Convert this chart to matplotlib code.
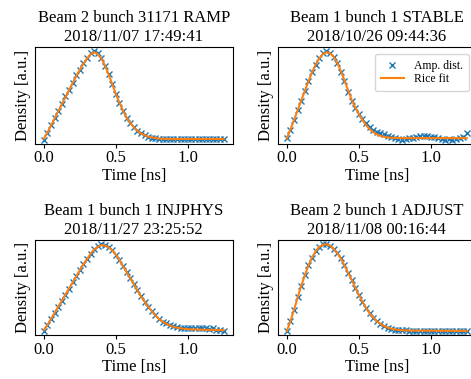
import numpy as np
import matplotlib
matplotlib.use('Agg')
from matplotlib import pyplot as plt

plt.rcParams['font.family'] = 'serif'
plt.rcParams['font.serif'] = ['Liberation Serif', 'DejaVu Serif']
plt.rcParams['font.size'] = 12

# time grid [ns]
time = np.linspace(0, 1.25, 51)

titles = ['Beam 2 bunch 31171 RAMP\n2018/11/07 17:49:41',
          'Beam 1 bunch 1 STABLE\n2018/10/26 09:44:36',
          'Beam 1 bunch 1 INJPHYS\n2018/11/27 23:25:52',
          'Beam 2 bunch 1 ADJUST\n2018/11/08 00:16:44']

# fitted Rice curves (normalised)
fit_ramp = [0.02, 0.09, 0.17, 0.25, 0.33, 0.41, 0.49, 0.57, 0.65, 0.73,
            0.80, 0.87, 0.93, 0.98, 1.00, 0.98, 0.93, 0.85, 0.75, 0.64,
            0.53, 0.43, 0.34, 0.26, 0.20, 0.15, 0.11, 0.08, 0.06, 0.045,
            0.035, 0.028, 0.023, 0.020, 0.018, 0.017, 0.017, 0.017, 0.017, 0.017,
            0.017, 0.017, 0.017, 0.017, 0.017, 0.017, 0.017, 0.017, 0.017, 0.017,
            0.017]
fit_stable = [0.02, 0.12, 0.23, 0.34, 0.45, 0.56, 0.67, 0.77, 0.86, 0.93,
              0.98, 1.00, 0.99, 0.95, 0.88, 0.79, 0.68, 0.57, 0.46, 0.37,
              0.30, 0.23, 0.17, 0.125, 0.09, 0.065, 0.048, 0.037, 0.030, 0.026,
              0.024, 0.023, 0.022, 0.022, 0.022, 0.022, 0.022, 0.022, 0.022, 0.022,
              0.022, 0.022, 0.022, 0.022, 0.022, 0.022, 0.022, 0.022, 0.022, 0.022,
              0.022]
fit_injphys = [0.02, 0.08, 0.15, 0.22, 0.29, 0.36, 0.43, 0.50, 0.57, 0.64,
               0.71, 0.78, 0.84, 0.90, 0.95, 0.98, 1.00, 0.995, 0.975, 0.94,
               0.89, 0.83, 0.76, 0.69, 0.62, 0.55, 0.48, 0.41, 0.35, 0.29,
               0.24, 0.19, 0.15, 0.12, 0.095, 0.075, 0.06, 0.05, 0.042, 0.036,
               0.032, 0.030, 0.028, 0.027, 0.026, 0.025, 0.024, 0.023, 0.023, 0.022,
               0.022]
fit_adjust = [0.02, 0.13, 0.26, 0.40, 0.53, 0.65, 0.76, 0.85, 0.92, 0.97,
              0.995, 1.00, 0.985, 0.95, 0.90, 0.84, 0.76, 0.68, 0.60, 0.51,
              0.43, 0.35, 0.28, 0.22, 0.17, 0.13, 0.10, 0.075, 0.058, 0.045,
              0.037, 0.031, 0.027, 0.025, 0.024, 0.024, 0.023, 0.023, 0.023, 0.022,
              0.022, 0.022, 0.022, 0.022, 0.021, 0.021, 0.021, 0.021, 0.020, 0.020,
              0.020]

# measured amplitude distributions
amp_ramp = [0.01, 0.09, 0.17, 0.26, 0.33, 0.41, 0.50, 0.57, 0.65, 0.74,
            0.80, 0.88, 0.94, 0.99, 1.01, 0.99, 0.93, 0.85, 0.75, 0.64,
            0.53, 0.43, 0.34, 0.26, 0.20, 0.15, 0.11, 0.08, 0.06, 0.04,
            0.03, 0.025, 0.02, 0.018, 0.015, 0.015, 0.014, 0.015, 0.015, 0.014,
            0.014, 0.015, 0.014, 0.014, 0.015, 0.014, 0.014, 0.015, 0.014, 0.014,
            0.015]
amp_stable = [0.02, 0.12, 0.23, 0.34, 0.45, 0.56, 0.67, 0.77, 0.86, 0.94,
              0.99, 1.01, 0.99, 0.95, 0.88, 0.78, 0.67, 0.55, 0.45, 0.36,
              0.30, 0.24, 0.19, 0.15, 0.12, 0.095, 0.075, 0.065, 0.05, 0.035,
              0.02, 0.01, 0.005, 0.01, 0.02, 0.025, 0.04, 0.045, 0.05, 0.045,
              0.04, 0.03, 0.02, 0.01, 0.005, 0.01, 0.005, 0.01, 0.02, 0.03,
              0.08]
amp_injphys = [0.01, 0.08, 0.15, 0.22, 0.29, 0.36, 0.43, 0.50, 0.57, 0.64,
               0.71, 0.78, 0.84, 0.90, 0.95, 0.99, 1.01, 1.00, 0.975, 0.94,
               0.89, 0.83, 0.76, 0.69, 0.62, 0.55, 0.48, 0.41, 0.35, 0.29,
               0.24, 0.19, 0.15, 0.12, 0.10, 0.08, 0.065, 0.055, 0.05, 0.045,
               0.045, 0.045, 0.04, 0.045, 0.04, 0.04, 0.035, 0.04, 0.02, 0.025,
               0.015]
amp_adjust = [0.02, 0.13, 0.26, 0.40, 0.53, 0.65, 0.76, 0.85, 0.92, 0.97,
              1.00, 1.00, 0.98, 0.95, 0.90, 0.84, 0.76, 0.68, 0.60, 0.51,
              0.43, 0.35, 0.28, 0.22, 0.17, 0.13, 0.10, 0.075, 0.055, 0.045,
              0.035, 0.03, 0.025, 0.025, 0.022, 0.022, 0.02, 0.022, 0.02, 0.02,
              0.02, 0.02, 0.02, 0.02, 0.02, 0.02, 0.018, 0.02, 0.018, 0.018,
              0.018]

amps = [amp_ramp, amp_stable, amp_injphys, amp_adjust]
fits = [fit_ramp, fit_stable, fit_injphys, fit_adjust]

fig = plt.figure(figsize=(4.71, 3.79), dpi=100)
positions = [[0.074, 0.620, 0.420, 0.256],
             [0.590, 0.620, 0.420, 0.256],
             [0.074, 0.115, 0.420, 0.252],
             [0.590, 0.115, 0.420, 0.252]]

for i in range(4):
    ax = fig.add_axes(positions[i])
    ax.plot(time, amps[i], 'x', color='tab:blue', ms=5, mew=1.0, label='Amp. dist.')
    ax.plot(time, fits[i], '-', color='tab:orange', lw=1.5, label='Rice fit')
    ax.set_title(titles[i], fontsize=12, linespacing=1.25, pad=4)
    ax.set_xlabel('Time [ns]', labelpad=1)
    ax.set_ylabel('Density [a.u.]', labelpad=3)
    ax.set_yticks([])
    ax.set_xticks([0.0, 0.5, 1.0])
    ax.tick_params(axis='x', length=3, pad=1.5)
    if i == 1:
        ax.legend(loc='upper right', fontsize=8.5, labelspacing=0.1,
                  borderpad=0.5, handletextpad=0.8, borderaxespad=0.6)

plt.savefig('out.png', dpi=100)
